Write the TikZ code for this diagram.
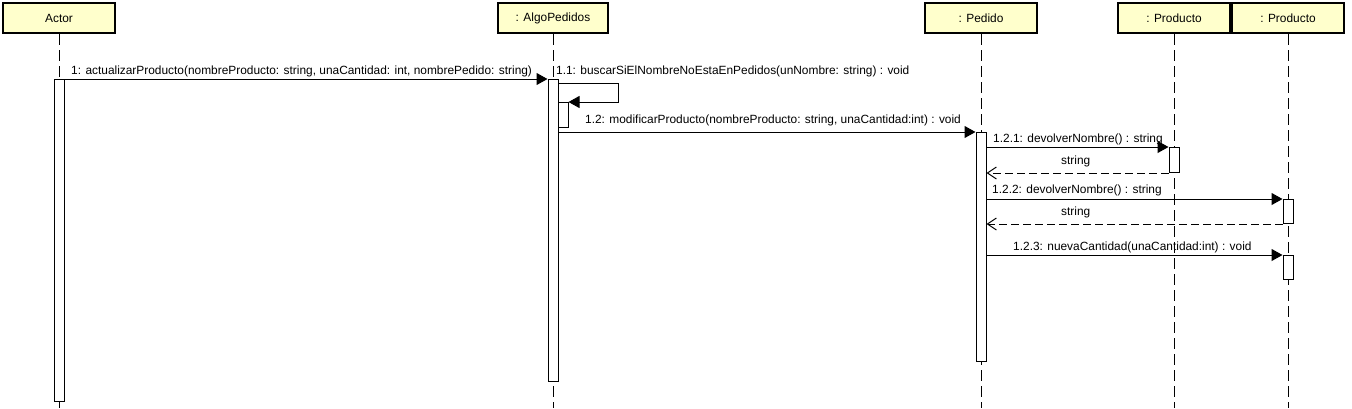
\documentclass[tikz,border=0pt]{standalone}
\usepackage{fontspec}
\setmainfont{Liberation Sans}
\usetikzlibrary{arrows.meta}
\definecolor{headyellow}{RGB}{255,255,204}

\begin{document}
\begin{tikzpicture}[x=1pt,y=-1pt,font=\fontsize{11.9}{14}\selectfont,
  head/.style={draw,line width=2.2pt,fill=headyellow,minimum width=112pt,minimum height=30pt,inner sep=0pt},
  lifeline/.style={line width=1pt,dash pattern=on 11pt off 5pt},
  act/.style={draw,line width=1pt,fill=white,minimum width=10pt,inner sep=0pt,anchor=north},
  msg/.style={line width=1pt,-{Triangle[length=11pt,width=12pt]}},
  ret/.style={line width=1pt,dash pattern=on 8pt off 4pt,-{Straight Barb[length=9pt,width=12pt]}},
  lbl/.style={anchor=base west,inner sep=0pt}]
  \useasboundingbox (0,0) rectangle (1352,408);
  \coordinate (bot) at (0,408);
  % heads
  \node[head] (actor) at (59,18) {Actor};
  \node[head,minimum width=110pt] (algo) at (553,18) {: AlgoPedidos};
  \node[head] (pedido) at (981,18) {: Pedido};
  \node[head] (prodA) at (1174,18) {: Producto};
  \node[head] (prodB) at (1288,18) {: Producto};
  \foreach \n in {actor,algo,pedido,prodA,prodB}
    \draw[lifeline] (\n.south) -- (\n |- bot);
  % activations
  \node[act,minimum height=322pt] (actActor) at (actor |- 0,79) {};
  \node[act,minimum height=302pt] (actAlgo) at (algo |- 0,79) {};
  \node[act,minimum height=25pt] (actSelf) at ([xshift=10pt]algo |- 0,102) {};
  \node[act,minimum height=229pt] (actPedido) at (pedido |- 0,132) {};
  \node[act,minimum height=25pt] (actProdA) at (prodA |- 0,147) {};
  \node[act,minimum height=24pt] (actProdB1) at (prodB |- 0,199) {};
  \node[act,minimum height=24pt] (actProdB2) at (prodB |- 0,255) {};
  % messages
  \draw[msg] (actActor.north east) -- (actAlgo.north west);
  \draw[msg] ([yshift=-4pt]actAlgo.north east) -- ++(60,0) |- (actSelf.north east);
  \draw[msg] (actAlgo.east |- actPedido.north) -- (actPedido.north west);
  \draw[msg] (actPedido.east |- actProdA.north) -- (actProdA.north west);
  \draw[ret] (actProdA.south west) -- (actPedido.east |- actProdA.south);
  \draw[msg] (actPedido.east |- actProdB1.north) -- (actProdB1.north west);
  \draw[ret] (actProdB1.south west) -- (actPedido.east |- actProdB1.south);
  \draw[msg] (actPedido.east |- actProdB2.north) -- (actProdB2.north west);
  % labels
  \node[lbl] (lActualizar) at (71,74) {1: actualizarProducto(nombreProducto: string, unaCantidad: int, nombrePedido: string)};
  \node[lbl] (lBuscar) at (556,74) {1.1: buscarSiElNombreNoEstaEnPedidos(unNombre: string) : void};
  \node[lbl] (lModificar) at (585,123) {1.2: modificarProducto(nombreProducto: string, unaCantidad:int) : void};
  \node[lbl] (lDevolver1) at (993,142) {1.2.1: devolverNombre() : string};
  \node[lbl] (lString1) at (1061,164) {string};
  \node[lbl] (lDevolver2) at (992,193) {1.2.2: devolverNombre() : string};
  \node[lbl] (lString2) at (1061,215) {string};
  \node[lbl] (lCantidad) at (1013,250) {1.2.3: nuevaCantidad(unaCantidad:int) : void};
\end{tikzpicture}
\end{document}
